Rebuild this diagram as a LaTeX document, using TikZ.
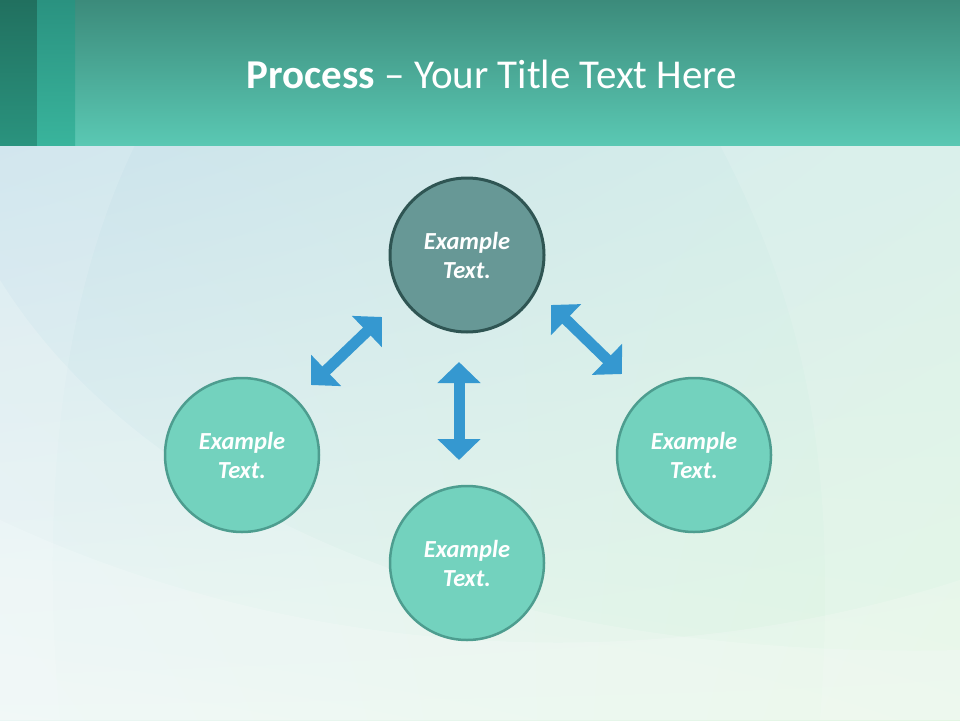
\documentclass[tikz,border=0pt]{standalone}
\usepackage{fontspec}
\setmainfont{Carlito}
\usetikzlibrary{arrows.meta,shadings}
\definecolor{bgTL}{HTML}{CCE3EC}
\definecolor{bgTR}{HTML}{D6EFE9}
\definecolor{bgBL}{HTML}{EAF6F4}
\definecolor{bgBR}{HTML}{E2F6E3}
\definecolor{hdTop}{HTML}{3C8B7B}
\definecolor{hdBot}{HTML}{5AC8B3}
\definecolor{stripAtop}{HTML}{21705F}
\definecolor{stripAbot}{HTML}{2A937E}
\definecolor{stripBtop}{HTML}{2A9280}
\definecolor{stripBbot}{HTML}{39B49C}
\definecolor{topFill}{HTML}{679896}
\definecolor{topLine}{HTML}{2F5553}
\definecolor{cFill}{HTML}{73D2BE}
\definecolor{cLine}{HTML}{4D9D8F}
\definecolor{arrBlue}{HTML}{3598D0}
\tikzset{
  circ/.style={circle, minimum size=154pt, inner sep=0pt, fill=cFill, draw=cLine, line width=2.5pt,
    text=white, align=center, font=\fontsize{24.5}{29}\selectfont\bfseries\itshape},
  topcirc/.style={circ, fill=topFill, draw=topLine, line width=3pt},
  dblarrow/.style={draw=arrBlue, line width=11pt,
    {Triangle[width=42pt,length=21pt]}-{Triangle[width=42pt,length=21pt]}},
  arc/.style={white, opacity=0.18}
}
\begin{document}
\begin{tikzpicture}[x=1pt,y=-1pt]
\useasboundingbox (0,0) rectangle (960,720);
% background
\shade[upper left=bgTL, upper right=bgTR, lower left=bgBL, lower right=bgBR] (0,145) rectangle (960,720);
\begin{scope}
\clip (0,145) rectangle (960,720);
\fill[arc] (0,520) .. controls (300,660) and (650,680) .. (960,580) -- (960,720) -- (0,720) -- cycle;
\fill[arc] (0,280) .. controls (150,520) and (500,660) .. (960,650) -- (960,720) -- (0,720) -- cycle;
\fill[white, opacity=0.12] (135,145) .. controls (60,300) and (40,500) .. (60,720) -- (0,720) -- (0,145) -- cycle;
\fill[white, opacity=0.12] (720,145) .. controls (800,300) and (840,450) .. (820,720) -- (960,720) -- (960,145) -- cycle;
\end{scope}
% header
\shade[top color=hdTop, bottom color=hdBot] (0,0) rectangle (960,145);
\shade[top color=stripAtop, bottom color=stripAbot] (0,0) rectangle (37,145);
\shade[top color=stripBtop, bottom color=stripBbot] (37,0) rectangle (75,145);
\node[text=white, font=\fontsize{41}{45}\selectfont, anchor=base] (title) at (492,88)
  {\textbf{Process} – Your Title Text Here};
% circles
\node[topcirc] (top) at (467,255) {Example\\Text.};
\node[circ] (left) at (242,455) {Example\\Text.};
\node[circ] (bottom) at (467,563) {Example\\Text.};
\node[circ] (right) at (694,455) {Example\\Text.};
% arrow ends
\coordinate (lA) at (311,385);
\coordinate (lB) at (382,317);
\coordinate (rA) at (551,305);
\coordinate (rB) at (622,374);
\coordinate (vA) at (459,362);
\coordinate (vB) at (459,460);
\draw[dblarrow] (lA) -- (lB);
\draw[dblarrow] (rA) -- (rB);
\draw[dblarrow] (vA) -- (vB);
\end{tikzpicture}
\end{document}
